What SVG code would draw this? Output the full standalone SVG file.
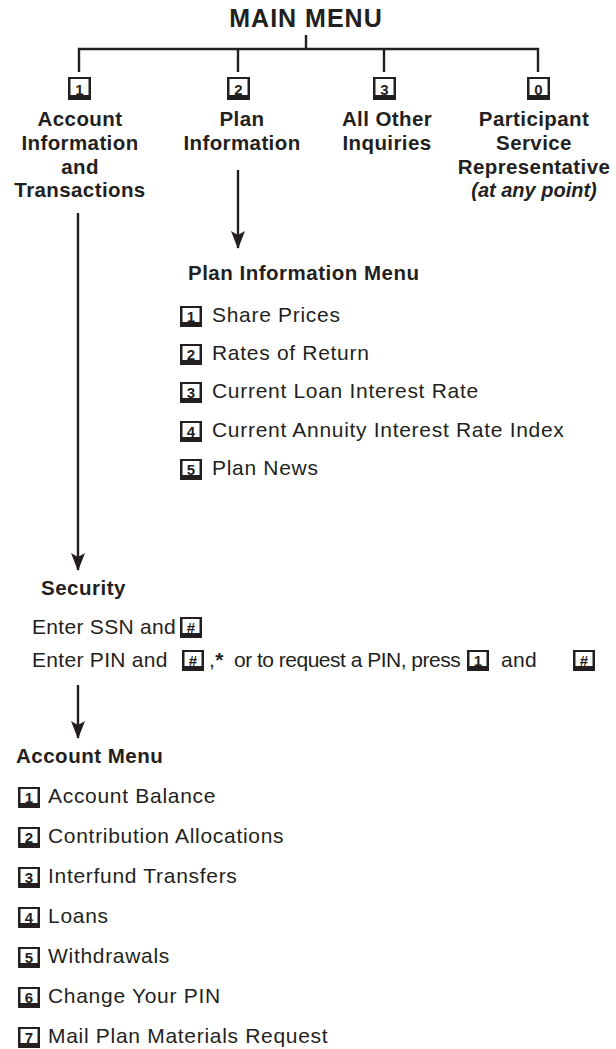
<svg xmlns="http://www.w3.org/2000/svg" xmlns:xlink="http://www.w3.org/1999/xlink" width="616" height="1049" viewBox="0 0 616 1049">
<style>
  text { font-family: "Liberation Sans", Arial, sans-serif; fill: #231f20; }
  .title { font-size: 25px; font-weight: bold; text-anchor: middle; letter-spacing: 1px; }
  .lbl { font-size: 20.5px; font-weight: bold; text-anchor: middle; letter-spacing: 0.4px; }
  .lbli { font-size: 20px; font-weight: bold; font-style: italic; text-anchor: middle; }
  .head { font-size: 20.5px; font-weight: bold; letter-spacing: 0.5px; }
  .body { font-size: 21px; letter-spacing: 0.7px; }
  .sec { font-size: 21px; letter-spacing: 0.3px; }
  .knum { font-size: 15px; font-weight: bold; text-anchor: middle; }
  .conn { stroke: #231f20; stroke-width: 2.4; fill: none; }
</style>
<defs>
  <g id="key">
    <rect width="22" height="21" fill="#231f20"/>
    <rect x="2.5" y="2" width="17" height="14" fill="#fff"/>
  </g>
  <g id="bigkey">
    <rect width="23" height="23" fill="#231f20"/>
    <rect x="2.5" y="2" width="18" height="16" fill="#fff"/>
  </g>
  <marker id="arrow" viewBox="0 0 18 14" refX="17" refY="7" markerWidth="18" markerHeight="14" markerUnits="userSpaceOnUse" orient="auto">
    <path d="M0,0 L18,7 L0,14 L4,7 Z" fill="#231f20"/>
  </marker>
</defs>

<g id="connectors">
  <path class="conn" d="M306,35 V49 M79,72 V49 H538 V72 M238,49 V72 M384,49 V72"/>
  <line class="conn" x1="238" y1="170" x2="238" y2="248" marker-end="url(#arrow)"/>
  <line class="conn" x1="78" y1="213" x2="78" y2="570" marker-end="url(#arrow)"/>
  <line class="conn" x1="78" y1="685" x2="78" y2="738" marker-end="url(#arrow)"/>
</g>

<g id="main-menu">
  <text class="title" x="306" y="27">MAIN MENU</text>
</g>

<g id="opt1">
  <use xlink:href="#bigkey" x="68" y="77"/>
  <text class="knum" x="79.5" y="94.5">1</text>
  <text class="lbl" x="80" y="126">Account</text>
  <text class="lbl" x="80" y="150">Information</text>
  <text class="lbl" x="80" y="174">and</text>
  <text class="lbl" x="80" y="197">Transactions</text>
</g>

<g id="opt2">
  <use xlink:href="#bigkey" x="227" y="77"/>
  <text class="knum" x="238.5" y="94.5">2</text>
  <text class="lbl" x="242" y="126">Plan</text>
  <text class="lbl" x="242" y="150">Information</text>
</g>

<g id="opt3">
  <use xlink:href="#bigkey" x="373" y="77"/>
  <text class="knum" x="384.5" y="94.5">3</text>
  <text class="lbl" x="387" y="126">All Other</text>
  <text class="lbl" x="387" y="150">Inquiries</text>
</g>

<g id="opt0">
  <use xlink:href="#bigkey" x="527" y="77"/>
  <text class="knum" x="538.5" y="94.5">0</text>
  <text class="lbl" x="534" y="126">Participant</text>
  <text class="lbl" x="534" y="150">Service</text>
  <text class="lbl" x="534" y="174">Representative</text>
  <text class="lbli" x="534" y="197">(at any point)</text>
</g>

<g id="plan-menu">
  <text class="head" x="188" y="280">Plan Information Menu</text>
  <use xlink:href="#key" x="180" y="306"/><text class="knum" x="191" y="321.5">1</text>
  <text class="body" x="212" y="322">Share Prices</text>
  <use xlink:href="#key" x="180" y="344"/><text class="knum" x="191" y="359.5">2</text>
  <text class="body" x="212" y="360">Rates of Return</text>
  <use xlink:href="#key" x="180" y="382"/><text class="knum" x="191" y="397.5">3</text>
  <text class="body" x="212" y="398">Current Loan Interest Rate</text>
  <use xlink:href="#key" x="180" y="421"/><text class="knum" x="191" y="436.5">4</text>
  <text class="body" x="212" y="437">Current Annuity Interest Rate Index</text>
  <use xlink:href="#key" x="180" y="459"/><text class="knum" x="191" y="474.5">5</text>
  <text class="body" x="212" y="475">Plan News</text>
</g>

<g id="security">
  <text class="head" x="41" y="595">Security</text>
  <text class="sec" x="32" y="634">Enter SSN and</text>
  <use xlink:href="#key" x="180" y="617"/><text class="knum" x="191" y="632.5">#</text>
  <text class="sec" x="32" y="667">Enter PIN and</text>
  <use xlink:href="#key" x="182" y="650"/><text class="knum" x="193" y="665.5">#</text>
  <text class="sec" x="209" y="667">,<tspan font-weight="bold">*</tspan></text>
  <text class="sec" x="234" y="667" textLength="227">or to request a PIN, press</text>
  <use xlink:href="#key" x="467" y="650"/><text class="knum" x="478" y="665.5">1</text>
  <text class="sec" x="501" y="667">and</text>
  <use xlink:href="#key" x="573" y="650"/><text class="knum" x="584" y="665.5">#</text>
</g>

<g id="account-menu">
  <text class="head" x="16" y="763">Account Menu</text>
  <use xlink:href="#key" x="18" y="787"/><text class="knum" x="29" y="802.5">1</text>
  <text class="body" x="48" y="803">Account Balance</text>
  <use xlink:href="#key" x="18" y="827"/><text class="knum" x="29" y="842.5">2</text>
  <text class="body" x="48" y="843">Contribution Allocations</text>
  <use xlink:href="#key" x="18" y="867"/><text class="knum" x="29" y="882.5">3</text>
  <text class="body" x="48" y="883">Interfund Transfers</text>
  <use xlink:href="#key" x="18" y="907"/><text class="knum" x="29" y="922.5">4</text>
  <text class="body" x="48" y="923">Loans</text>
  <use xlink:href="#key" x="18" y="947"/><text class="knum" x="29" y="962.5">5</text>
  <text class="body" x="48" y="963">Withdrawals</text>
  <use xlink:href="#key" x="18" y="987"/><text class="knum" x="29" y="1002.5">6</text>
  <text class="body" x="48" y="1003">Change Your PIN</text>
  <use xlink:href="#key" x="18" y="1027"/><text class="knum" x="29" y="1042.5">7</text>
  <text class="body" x="48" y="1043">Mail Plan Materials Request</text>
</g>
</svg>
